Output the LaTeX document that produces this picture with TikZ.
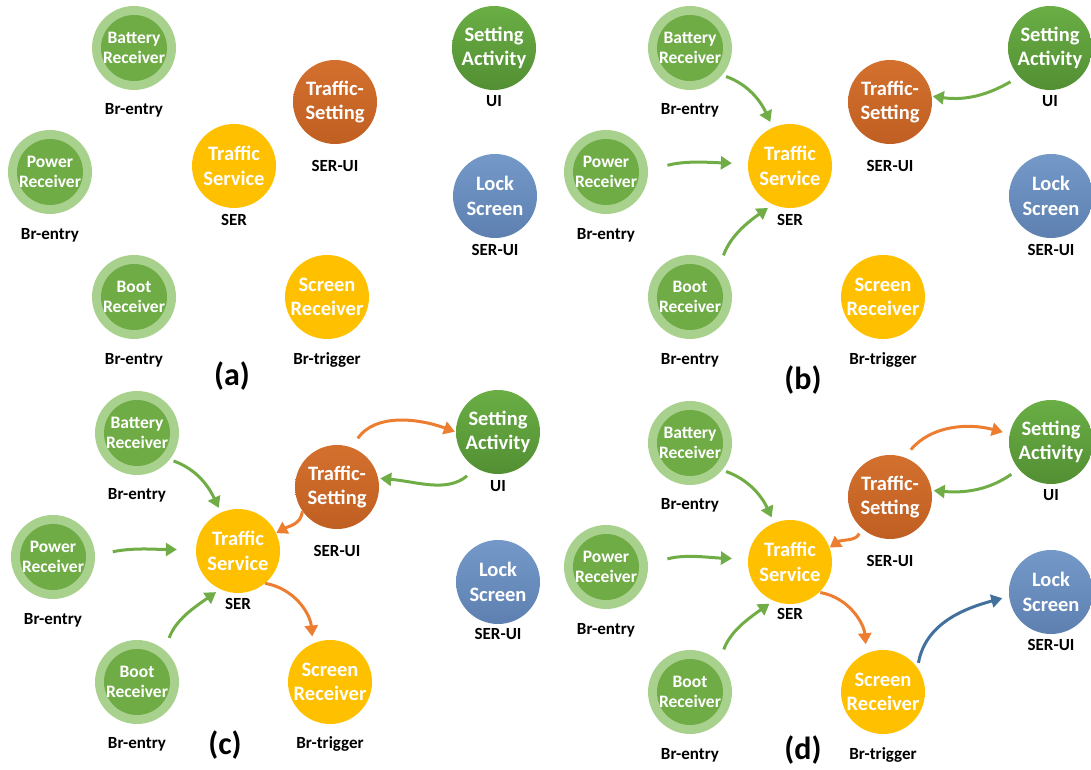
\documentclass[tikz,border=0pt]{standalone}
\usepackage{fontspec}
\setmainfont{Carlito}
\usetikzlibrary{arrows.meta}
\definecolor{ringgreen}{HTML}{A9D18E}
\definecolor{recvgreen}{HTML}{6FAC46}
\definecolor{actgreentop}{HTML}{6AAE45}
\definecolor{actgreenbot}{HTML}{528F33}
\definecolor{tsyellow}{HTML}{FFC000}
\definecolor{trstop}{HTML}{D3702E}
\definecolor{trsbot}{HTML}{C05F22}
\definecolor{locktop}{HTML}{7499C8}
\definecolor{lockbot}{HTML}{5D80B1}
\definecolor{agreen}{HTML}{70AD47}
\definecolor{aorange}{HTML}{ED7D31}
\definecolor{ablue}{HTML}{41719C}
\tikzset{
  comp/.style={circle, minimum size=84pt, inner sep=0pt, align=center, text=white,
    font=\bfseries\fontsize{20.5}{24.5}\selectfont},
  recv/.style={comp, fill=ringgreen, font=\bfseries\fontsize{17.5}{20.5}\selectfont,
    path picture={\fill[recvgreen] (path picture bounding box.center) circle (33pt);}},
  srv/.style={comp, fill=tsyellow},
  trs/.style={comp, top color=trstop, bottom color=trsbot},
  act/.style={comp, top color=actgreentop, bottom color=actgreenbot},
  lock/.style={comp, top color=locktop, bottom color=lockbot},
  lab/.style={inner sep=0pt, font=\bfseries\fontsize{17}{20}\selectfont},
  panel/.style={inner sep=0pt, font=\bfseries\fontsize{32}{36}\selectfont},
  flow/.style={line width=3pt, -{Triangle[length=11pt,width=13pt]}},
  gflow/.style={flow, draw=agreen},
  oflow/.style={flow, draw=aorange},
  bflow/.style={flow, draw=ablue},
}
% \placeunit{name}{style}{x}{y from top}{text}{caption}{caption y from top}
\newcommand\placeunit[7]{%
  \node[#2] (#1) at (#3,{770-#4}) {#5};
  \node[lab] (#1-cap) at (#3,{770-#7}) {#6};}
\begin{document}
\begin{tikzpicture}[x=1pt,y=1pt]
\useasboundingbox (0,0) rectangle (1091,770);

% ---------- (a) ----------
\placeunit{bat-a}{recv}{134}{48}{Battery\\Receiver}{Br-entry}{110}
\placeunit{pow-a}{recv}{50}{172}{Power\\Receiver}{Br-entry}{235}
\placeunit{boot-a}{recv}{134}{297}{Boot\\Receiver}{Br-entry}{360}
\placeunit{ts-a}{srv}{234}{166}{Traffic\\Service}{SER}{220}
\placeunit{trs-a}{trs}{335}{102}{Traffic-\\Setting}{SER-UI}{166}
\placeunit{set-a}{act}{494}{48}{Setting\\Activity}{UI}{101}
\placeunit{lock-a}{lock}{495}{196}{Lock\\Screen}{SER-UI}{250}
\placeunit{scr-a}{srv}{327}{297}{Screen\\Receiver}{Br-trigger}{360}
\node[panel] (tag-a) at (232,{770-376}) {(a)};

% ---------- (b) ----------
\placeunit{bat-b}{recv}{690}{48}{Battery\\Receiver}{Br-entry}{110}
\placeunit{pow-b}{recv}{606}{172}{Power\\Receiver}{Br-entry}{235}
\placeunit{boot-b}{recv}{690}{297}{Boot\\Receiver}{Br-entry}{360}
\placeunit{ts-b}{srv}{790}{166}{Traffic\\Service}{SER}{220}
\placeunit{trs-b}{trs}{890}{102}{Traffic-\\Setting}{SER-UI}{166}
\placeunit{set-b}{act}{1050}{48}{Setting\\Activity}{UI}{101}
\placeunit{lock-b}{lock}{1051}{196}{Lock\\Screen}{SER-UI}{250}
\placeunit{scr-b}{srv}{883}{297}{Screen\\Receiver}{Br-trigger}{360}
\node[panel] (tag-b) at (803,{770-380}) {(b)};

\draw[gflow, shorten <=4pt, shorten >=6pt] (bat-b.-40) to[out=-20,in=115] (ts-b.114);
\draw[gflow, shorten <=20pt, shorten >=16pt] (pow-b.2) to[out=15,in=178] (ts-b.177);
\draw[gflow, shorten <=12pt, shorten >=6pt] (boot-b.46) to[out=70,in=-145] (ts-b.-114);
\draw[gflow, shorten <=10pt, shorten >=1pt] (set-b.-137) to[out=-150,in=-8] (trs-b.8);

% ---------- (c) ----------
\placeunit{bat-c}{recv}{137}{433}{Battery\\Receiver}{Br-entry}{495}
\placeunit{pow-c}{recv}{53}{557}{Power\\Receiver}{Br-entry}{620}
\placeunit{boot-c}{recv}{137}{682}{Boot\\Receiver}{Br-entry}{744}
\placeunit{ts-c}{srv}{238}{551}{Traffic\\Service}{SER}{604}
\placeunit{trs-c}{trs}{337}{487}{Traffic-\\Setting}{SER-UI}{551}
\placeunit{set-c}{act}{498}{432}{Setting\\Activity}{UI}{486}
\placeunit{lock-c}{lock}{498}{582}{Lock\\Screen}{SER-UI}{634}
\placeunit{scr-c}{srv}{330}{682}{Screen\\Receiver}{Br-trigger}{744}
\node[panel] (tag-c) at (225,{770-745}) {(c)};

\draw[gflow, shorten <=4pt, shorten >=5pt] (bat-c.-39) to[out=-20,in=115] (ts-c.114);
\draw[gflow, shorten <=18pt, shorten >=19pt] (pow-c.2) to[out=12,in=180] (ts-c.178);
\draw[gflow, shorten <=13pt, shorten >=5pt] (boot-c.49) to[out=70,in=-145] (ts-c.-115);
\draw[oflow, shorten <=0pt, shorten >=0pt] (trs-c.-145) to[out=-95,in=30] (ts-c.25);
\draw[oflow, shorten <=0pt, shorten >=7pt] (ts-c.-50) to[out=-10,in=95] (scr-c.114);
\draw[oflow, shorten <=11pt, shorten >=1pt] (trs-c.70) to[out=55,in=160] (set-c.180);
\draw[gflow, shorten <=12pt, shorten >=2pt] (set-c.-121) to[out=-140,in=-5] (trs-c.12);

% ---------- (d) ----------
\placeunit{bat-d}{recv}{690}{443}{Battery\\Receiver}{Br-entry}{505}
\placeunit{pow-d}{recv}{606}{567}{Power\\Receiver}{Br-entry}{630}
\placeunit{boot-d}{recv}{690}{692}{Boot\\Receiver}{Br-entry}{755}
\placeunit{ts-d}{srv}{790}{562}{Traffic\\Service}{SER}{614}
\placeunit{trs-d}{trs}{890}{497}{Traffic-\\Setting}{SER-UI}{561}
\placeunit{set-d}{act}{1051}{442}{Setting\\Activity}{UI}{495}
\placeunit{lock-d}{lock}{1051}{592}{Lock\\Screen}{SER-UI}{645}
\placeunit{scr-d}{srv}{883}{692}{Screen\\Receiver}{Br-trigger}{755}
\node[panel] (tag-d) at (803,{770-750}) {(d)};

\draw[gflow, shorten <=4pt, shorten >=6pt] (bat-d.-40) to[out=-20,in=115] (ts-d.112);
\draw[gflow, shorten <=20pt, shorten >=16pt] (pow-d.4) to[out=15,in=178] (ts-d.176);
\draw[gflow, shorten <=13pt, shorten >=5pt] (boot-d.46) to[out=70,in=-145] (ts-d.-113);
\draw[oflow, shorten <=6pt, shorten >=0pt] (trs-d.-133) to[out=-110,in=35] (ts-d.20);
\draw[oflow, shorten <=1pt, shorten >=9pt] (ts-d.-46) to[out=-10,in=95] (scr-d.113);
\draw[oflow, shorten <=10pt, shorten >=7pt] (trs-d.70) to[out=50,in=165] (set-d.169);
\draw[gflow, shorten <=9pt, shorten >=2pt] (set-d.-140) to[out=-145,in=-5] (trs-d.9);
\draw[bflow, shorten <=5pt, shorten >=7pt] (scr-d.35) to[out=80,in=-165] (lock-d.-174);
\end{tikzpicture}
\end{document}
